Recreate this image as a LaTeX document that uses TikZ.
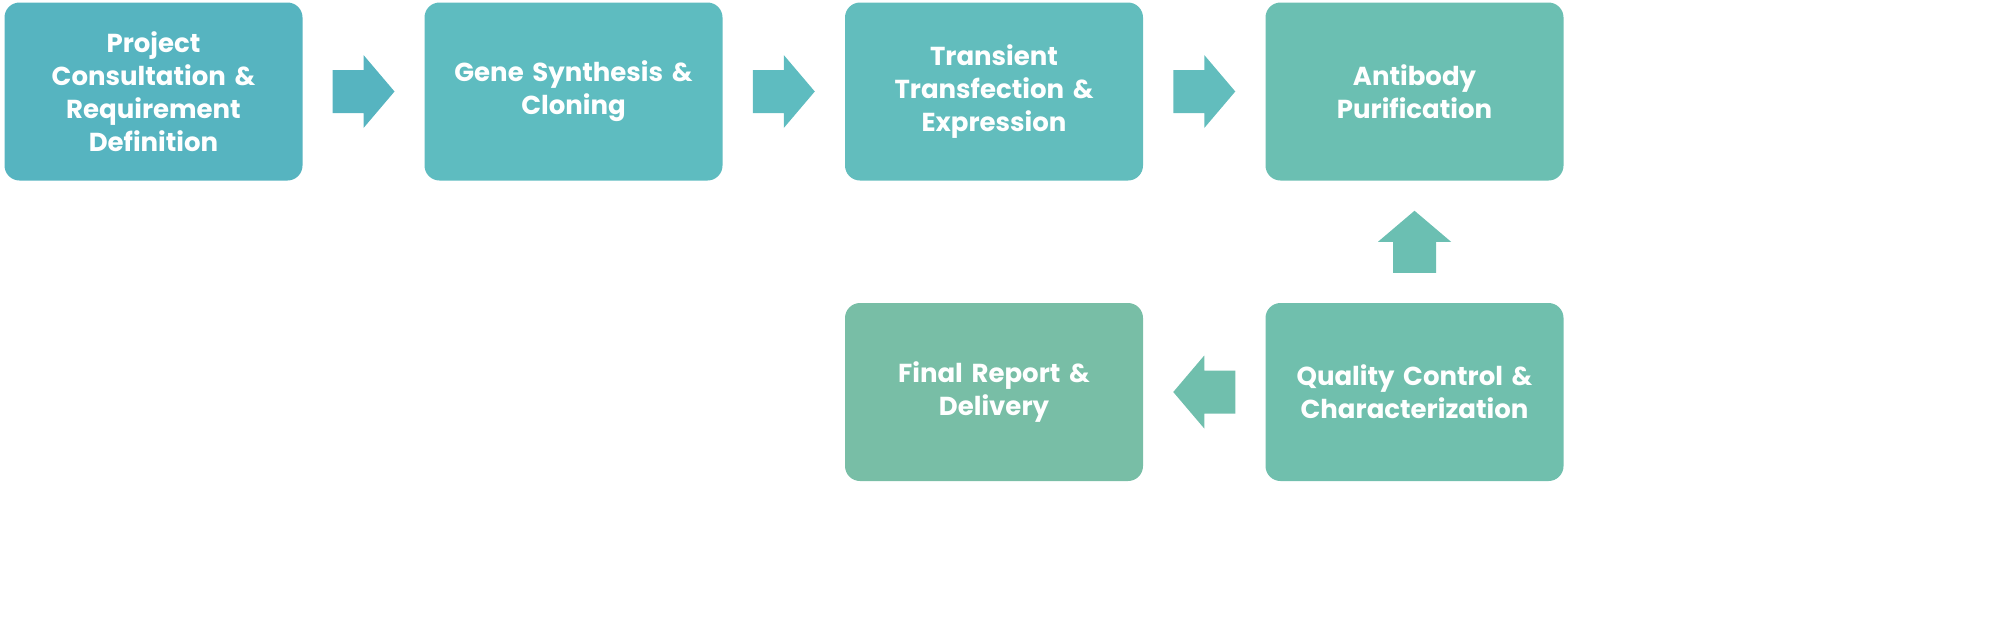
\documentclass[tikz,border=0pt]{standalone}
\usepackage{fontspec}
\setmainfont{Poppins}
\usetikzlibrary{positioning,calc}
\definecolor{stepa}{HTML}{56B4C0}
\definecolor{stepb}{HTML}{5EBCC0}
\definecolor{stepc}{HTML}{62BDBD}
\definecolor{stepd}{HTML}{6BBFB2}
\definecolor{stepe}{HTML}{70BFAD}
\definecolor{stepf}{HTML}{78BEA6}
\tikzset{
  stage/.style={rounded corners=7.5pt, minimum width=149pt, minimum height=89pt,
    text width=140pt, align=center, text=white, inner sep=0pt,
    font=\fontsize{13}{16.5}\selectfont\bfseries}
}
% block arrow at a named coordinate
\newcommand{\flowarrow}[3]{%
  \fill [#3, shift={(#1)}, rotate=#2]
    (-31,-21.5) -- (0,-21.5) -- (0,-36.5) -- (31,0) -- (0,36.5) -- (0,21.5) -- (-31,21.5) -- cycle;}
\begin{document}
\begin{tikzpicture}[x=0.5pt,y=-0.5pt]
\useasboundingbox (0,0) rectangle (2016,623);
\node [stage, fill=stepa] (consult) at (153.5,91.5) {Project\\Consultation \&\\Requirement\\Definition};
\node [stage, fill=stepb] (gene) at (573.5,91.5) {Gene Synthesis \&\\Cloning};
\node [stage, fill=stepc] (transfect) at (994,91.5) {Transient\\Transfection \&\\Expression};
\node [stage, fill=stepd] (purify) at (1414.5,91.5) {Antibody\\Purification};
\node [stage, fill=stepe] (quality) at (1414.5,392) {Quality Control \&\\Characterization};
\node [stage, fill=stepf] (report) at (994,392) {Final Report \&\\Delivery};
% arrows between stages
\coordinate (ab) at ($(consult.east)!0.5!(gene.west)$);
\coordinate (bc) at ($(gene.east)!0.5!(transfect.west)$);
\coordinate (cd) at ($(transfect.east)!0.5!(purify.west)$);
\coordinate (de) at ($(purify.south)!0.5!(quality.north)$);
\coordinate (ef) at ($(quality.west)!0.5!(report.east)$);
\flowarrow{ab}{0}{stepa}
\flowarrow{bc}{0}{stepb}
\flowarrow{cd}{0}{stepc}
\flowarrow{de}{90}{stepd}
\flowarrow{ef}{180}{stepe}
\end{tikzpicture}
\end{document}
